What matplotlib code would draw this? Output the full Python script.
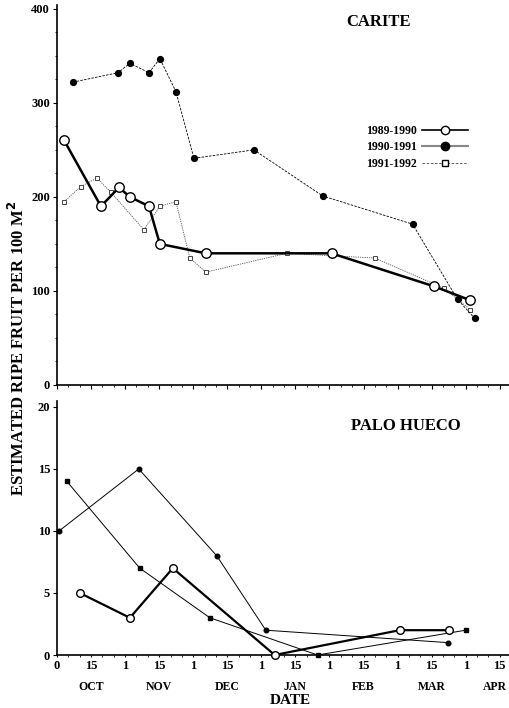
import matplotlib.pyplot as plt
from matplotlib.lines import Line2D
from matplotlib.ticker import MultipleLocator
import matplotlib.transforms as mtransforms

plt.rcParams["font.family"] = ["Liberation Serif", "DejaVu Serif"]
plt.rcParams["font.weight"] = "bold"

# x axis unit: half-month steps starting Oct 1 (0=Oct 1, 1=Oct 15, 2=Nov 1, ...)
day_labels = ["0", "15", "1", "15", "1", "15", "1", "15", "1", "15", "1", "15", "1", "15"]
month_labels = ["OCT", "NOV", "DEC", "JAN", "FEB", "MAR", "APR"]
month_pos = [1, 3, 5, 7, 9, 11, 13]

# CARITE
car_8990_x = [0.21, 1.29, 1.82, 2.14, 2.70, 3.02, 4.37, 8.06, 11.06, 12.14]
car_8990_y = [260, 190, 210, 200, 190, 150, 140, 140, 105, 90]
car_9091_x = [0.47, 1.79, 2.14, 2.70, 3.02, 3.49, 4.02, 5.78, 7.80, 10.44, 11.76, 12.26]
car_9091_y = [322, 332, 342, 332, 347, 312, 241, 250, 201, 171, 91, 71]
car_9192_x = [0.21, 0.70, 1.17, 1.58, 2.55, 3.02, 3.49, 3.90, 4.37, 6.74, 9.33, 11.35, 12.14]
car_9192_y = [195, 211, 220, 205, 165, 190, 195, 135, 120, 140, 135, 103, 80]

# PALO HUECO
pal_8990_x = [0.67, 2.14, 3.40, 6.39, 10.06, 11.50]
pal_8990_y = [5, 3, 7, 0, 2, 2]
pal_9091_x = [0.06, 2.40, 4.69, 6.13, 11.47]
pal_9091_y = [10, 15, 8, 2, 1]
pal_9192_x = [0.29, 2.43, 4.49, 7.65, 12.0]
pal_9192_y = [14, 7, 3, 0, 2]

W, H = 510, 708
fig = plt.figure(figsize=(W / 100, H / 100), dpi=100)


def px_axes(left, top, right, bottom):
    return fig.add_axes([left / W, 1 - bottom / H, (right - left) / W, (bottom - top) / H])


def style(ax):
    for s in ["top", "right"]:
        ax.spines[s].set_visible(False)
    ax.spines["left"].set_linewidth(1.2)
    ax.spines["bottom"].set_linewidth(1.2)
    ax.set_xlim(0, 13.3)
    ax.xaxis.set_major_locator(MultipleLocator(1))
    ax.xaxis.set_minor_locator(MultipleLocator(1 / 3))
    ax.tick_params(which="major", length=3, width=0.8, labelsize=9, pad=2)
    ax.tick_params(which="minor", length=1.5, width=0.6)


# Top panel
ax1 = px_axes(57, 5, 510, 385)
style(ax1)
ax1.set_ylim(0, 404)
ax1.yaxis.set_major_locator(MultipleLocator(100))
ax1.yaxis.set_minor_locator(MultipleLocator(25))
ax1.set_xticklabels([])
ax1.plot(car_9192_x, car_9192_y, color="#555555", lw=0.6, ls=(0, (1.5, 1.2)),
         marker="s", ms=3, mfc="white", mec="#444444", mew=0.7, zorder=2)
ax1.plot(car_9091_x, car_9091_y, color="black", lw=0.6, ls=(0, (3, 1.5)),
         marker="o", ms=4.2, mfc="black", mec="black", zorder=3)
ax1.plot(car_8990_x, car_8990_y, color="black", lw=1.8,
         marker="o", ms=6.8, mfc="white", mec="black", mew=1.0, zorder=4)
ax1.text(0.71, 0.955, "CARITE", transform=ax1.transAxes, ha="center", va="center",
         fontsize=12, fontweight="bold")

handles = [
    Line2D([], [], color="black", lw=1.2, marker="o", ms=6, mfc="white", mec="black"),
    Line2D([], [], color="#888888", lw=1.5, marker="o", ms=6, mfc="black", mec="black"),
    Line2D([], [], color="#444444", lw=0.6, ls=(0, (3, 2)), marker="s", ms=4,
           mfc="white", mec="black"),
]
ax1.legend(handles, ["1989-1990", "1990-1991", "1991-1992"], loc="upper left",
           bbox_to_anchor=((366 - 57) / 453, (385 - 125) / 380), frameon=False,
           markerfirst=False, fontsize=8.5, handlelength=3.9, handletextpad=0.4,
           labelspacing=0.38, borderaxespad=0, borderpad=0)

# Bottom panel
ax2 = px_axes(57, 401, 510, 655)
style(ax2)
ax2.set_ylim(0, 20.48)
ax2.yaxis.set_major_locator(MultipleLocator(5))
ax2.yaxis.set_minor_locator(MultipleLocator(1))
ax2.tick_params(axis="y", which="minor", length=0)
ax2.tick_params(axis="x", which="both", length=1.5)
ax2.set_xticks(range(len(day_labels)))
ax2.set_xticklabels(day_labels)
ax2.plot(pal_9192_x, pal_9192_y, color="black", lw=0.7,
         marker="s", ms=2.3, mfc="black", mec="black", zorder=2, clip_on=False)
ax2.plot(pal_9091_x, pal_9091_y, color="black", lw=0.7,
         marker="o", ms=3.3, mfc="black", mec="black", zorder=3, clip_on=False)
ax2.plot(pal_8990_x, pal_8990_y, color="black", lw=1.6,
         marker="o", ms=5.5, mfc="white", mec="black", mew=1.0, zorder=4, clip_on=False)
ax2.text(0.77, 0.9, "PALO HUECO", transform=ax2.transAxes, ha="center", va="center",
         fontsize=12, fontweight="bold")

trans = mtransforms.blended_transform_factory(ax2.transData, fig.transFigure)
for pos, lab in zip(month_pos, month_labels):
    ha = "right" if lab == "APR" else "center"
    x = pos + 0.22 if lab == "APR" else pos
    ax2.text(x, 1 - 687 / H, lab, transform=trans, ha=ha, va="center",
             fontsize=8.5, fontweight="bold")
fig.text(290 / W, 1 - 700 / H, "DATE", ha="center", va="center", fontsize=11,
         fontweight="bold")

fig.text(18 / W, 1 - 348 / H, "ESTIMATED RIPE FRUIT PER 100 M$^\\mathbf{2}$",
         rotation=90, ha="center", va="center", fontsize=12, fontweight="bold")

fig.savefig("out.png", dpi=100)
